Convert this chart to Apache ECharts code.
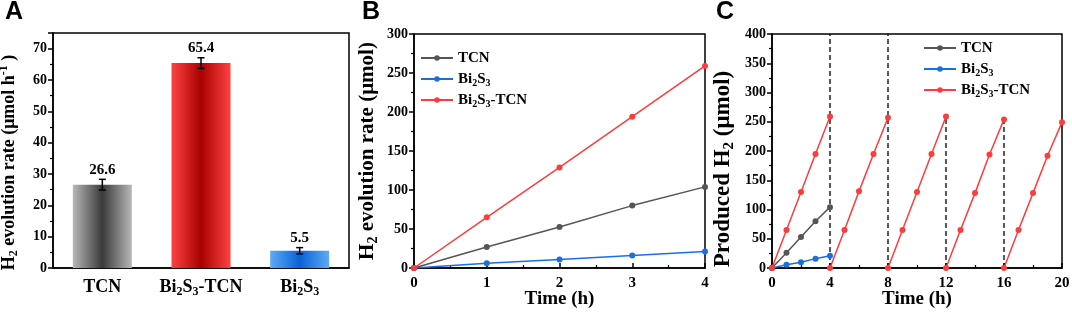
<!DOCTYPE html>
<html>
<head>
<meta charset="utf-8">
<script src="https://cdn.jsdelivr.net/npm/echarts@6/dist/echarts.min.js"></script>
<style>
html, body { margin: 0; padding: 0; background: #fff; }
#main { width: 1072px; height: 313px; }
</style>
</head>
<body>
<div id="main"></div>
<script>
// A: rate bars
var samplesA = ['TCN', 'Bi2S3-TCN', 'Bi2S3'];
var ratesA = [26.6, 65.4, 5.5];
var errorsA = [1.7, 1.7, 1.0];

// B: evolution over 4 h
var timeB = [0, 1, 2, 3, 4];
var tcnB = [0, 27, 52.5, 80, 104];
var bisB = [0, 6, 11, 16, 21];
var compB = [0, 65, 129, 194, 259];

// C: cycling test
var timeC = [0, 1, 2, 3, 4];
var tcnC = [0, 26, 53, 80, 104];
var bisC = [0, 5.6, 10, 16, 21];
var cycleStarts = [0, 4, 8, 12, 16];
var compCycles = [
    [0, 65, 130, 195, 259],
    [0, 65, 131, 195, 257],
    [0, 65, 130, 195, 259],
    [0, 65, 128, 194, 254],
    [0, 65, 128, 192, 249]
];
var dashX = [4, 8, 12, 16];
var dashTop = [400, 400, 259, 254];

var serif = '"Liberation Serif", "Times New Roman", serif';
var colors = { 'TCN': '#555555', 'Bi2S3': '#1a6fe0', 'Bi2S3-TCN': '#ff3b3b' };
var barGrad = [['#b8b8b8', '#3a3a3a'], ['#ff4242', '#a80000'], ['#5eaaf5', '#0862d6']];

// Bi2S3 -> Bi{sub|2}S{sub|3}
function chem(s) {
    return s.replace(/([A-Za-z])(\d)/g, '$1{sub|$2}');
}

function font(size) {
    return { fontFamily: serif, fontWeight: 'bold', fontSize: size, color: '#000', lineHeight: Math.round(size * 1.2) };
}

function rich(size) {
    var small = Math.round(size * 0.65);
    return {
        sub: { fontFamily: serif, fontWeight: 'bold', fontSize: small, color: '#000', lineHeight: Math.round(size * 0.55), verticalAlign: 'bottom' },
        sup: { fontFamily: serif, fontWeight: 'bold', fontSize: small, color: '#000', lineHeight: Math.round(size * 0.45), verticalAlign: 'top' }
    };
}

function label(size, extra) {
    var o = font(size);
    o.rich = rich(size);
    for (var k in extra) o[k] = extra[k];
    return o;
}

function pairs(xs, ys, offset) {
    return xs.map(function (x, i) { return [x + (offset || 0), ys[i]]; });
}

var frame = { show: true, borderColor: '#000', borderWidth: 1.5, backgroundColor: 'transparent', outerBoundsMode: 'none' };
var axisLine = { show: true, onZero: false, lineStyle: { color: '#000', width: 1.5 } };

function yAxis(grid, max, interval, name, size, gap, namePad) {
    return {
        type: 'value', gridIndex: grid, min: 0, max: max, interval: interval,
        axisLine: axisLine,
        axisTick: { show: true, inside: false, length: 5, lineStyle: { color: '#000', width: 1.5 } },
        minorTick: { show: true, splitNumber: 2, length: 3, lineStyle: { color: '#000', width: 1.2 } },
        splitLine: { show: false },
        axisLabel: label(14, { margin: 6, showMaxLabel: grid === 0 ? false : true }),
        name: name, nameLocation: 'middle', nameGap: gap, nameMoveOverlap: false,
        nameTextStyle: label(size, { padding: namePad || 0 })
    };
}

function xAxis(grid, max, interval) {
    return {
        type: 'value', gridIndex: grid, min: 0, max: max, interval: interval,
        axisLine: axisLine,
        axisTick: { show: true, inside: true, length: 5, lineStyle: { color: '#000', width: 1.5 } },
        minorTick: { show: true, splitNumber: 2, length: 3, lineStyle: { color: '#000', width: 1.2 } },
        splitLine: { show: false },
        axisLabel: label(15, { margin: 6 }),
        name: 'Time (h)', nameLocation: 'middle', nameGap: 20, nameMoveOverlap: false,
        nameTextStyle: label(19, {})
    };
}

function lineSeries(name, grid, data) {
    return {
        type: 'line', name: name, xAxisIndex: grid, yAxisIndex: grid, data: data,
        symbol: 'circle', symbolSize: 6, z: 3,
        itemStyle: { color: colors[name] },
        lineStyle: { color: colors[name], width: 1.5 }
    };
}

function legend(left, top, gap) {
    return {
        orient: 'vertical', left: left, top: top, itemGap: gap, padding: 0,
        itemWidth: 32, itemHeight: 7,
        data: ['TCN', 'Bi2S3', 'Bi2S3-TCN'],
        formatter: function (n) { return chem(n); },
        textStyle: label(15, { lineHeight: 18 })
    };
}

var series = [];

series.push({
    type: 'bar', xAxisIndex: 0, yAxisIndex: 0, barWidth: 59,
    data: ratesA.map(function (v, i) {
        return {
            value: v,
            itemStyle: {
                color: new echarts.graphic.LinearGradient(0, 0, 1, 0, [
                    { offset: 0, color: barGrad[i][0] },
                    { offset: 0.5, color: barGrad[i][1] },
                    { offset: 1, color: barGrad[i][0] }
                ])
            }
        };
    })
});

series.push({
    type: 'custom', xAxisIndex: 0, yAxisIndex: 0, z: 5,
    data: ratesA.map(function (v, i) { return [i, v, errorsA[i]]; }),
    renderItem: function (params, api) {
        var x = api.value(0), v = api.value(1), e = api.value(2);
        var top = api.coord([x, v + e]);
        var bot = api.coord([x, v - e]);
        var st = { stroke: '#000', lineWidth: 1.5 };
        return {
            type: 'group',
            children: [
                { type: 'line', shape: { x1: top[0], y1: top[1], x2: bot[0], y2: bot[1] }, style: st },
                { type: 'line', shape: { x1: top[0] - 3.5, y1: top[1], x2: top[0] + 3.5, y2: top[1] }, style: st },
                { type: 'line', shape: { x1: bot[0] - 3.5, y1: bot[1], x2: bot[0] + 3.5, y2: bot[1] }, style: st },
                {
                    type: 'text',
                    style: {
                        text: v.toFixed(1), x: top[0], y: top[1] - 2,
                        align: 'center', verticalAlign: 'bottom',
                        fontFamily: serif, fontWeight: 'bold', fontSize: 15, fill: '#000'
                    }
                }
            ]
        };
    }
});

series.push(lineSeries('TCN', 1, pairs(timeB, tcnB)));
series.push(lineSeries('Bi2S3', 1, pairs(timeB, bisB)));
series.push(lineSeries('Bi2S3-TCN', 1, pairs(timeB, compB)));

dashX.forEach(function (x, i) {
    series.push({
        type: 'line', xAxisIndex: 2, yAxisIndex: 2, name: 'dash' + i, silent: true, z: 1,
        data: [[x, 0], [x, dashTop[i]]], symbol: 'none',
        lineStyle: { color: '#000', width: 1.3, type: [5, 3] }
    });
});
series.push(lineSeries('TCN', 2, pairs(timeC, tcnC)));
series.push(lineSeries('Bi2S3', 2, pairs(timeC, bisC)));
compCycles.forEach(function (c, i) {
    series.push(lineSeries('Bi2S3-TCN', 2, pairs(timeC, c, cycleStarts[i])));
});

var option = {
    animation: false,
    backgroundColor: '#fff',
    grid: [
        Object.assign({ left: 53, top: 33, width: 296, height: 235 }, frame),
        Object.assign({ left: 414, top: 34, width: 291, height: 234 }, frame),
        Object.assign({ left: 772, top: 34, width: 290, height: 234 }, frame)
    ],
    xAxis: [
        {
            type: 'category', gridIndex: 0, data: samplesA,
            axisLine: axisLine, axisTick: { show: false }, splitLine: { show: false },
            axisLabel: label(18, { margin: 8, interval: 0, hideOverlap: false, formatter: function (s) { return chem(s); } })
        },
        xAxis(1, 4, 1),
        xAxis(2, 20, 4)
    ],
    yAxis: [
        yAxis(0, 75, 10, 'H{sub|2} evolution rate (μmol h{sup|-1} )', 18, 33, [0, 24, 0, 0]),
        yAxis(1, 300, 50, 'H{sub|2} evolution rate (μmol)', 21, 34),
        yAxis(2, 400, 50, 'Produced H{sub|2} (μmol)', 23, 35, [0, 36, 0, 0])
    ],
    legend: [legend(420, 49, 3), legend(923, 39, 3)],
    graphic: [
        { type: 'text', left: 5, top: 0, style: { text: 'A', font: 'bold 25px "Liberation Sans", Arial, sans-serif', fill: '#000' } },
        { type: 'text', left: 362, top: 0, style: { text: 'B', font: 'bold 25px "Liberation Sans", Arial, sans-serif', fill: '#000' } },
        { type: 'text', left: 716, top: 0, style: { text: 'C', font: 'bold 25px "Liberation Sans", Arial, sans-serif', fill: '#000' } }
    ],
    series: series
};

var chart = echarts.init(document.getElementById('main'));
chart.setOption(option);
window.addEventListener('resize', chart.resize);
</script>
</body>
</html>
